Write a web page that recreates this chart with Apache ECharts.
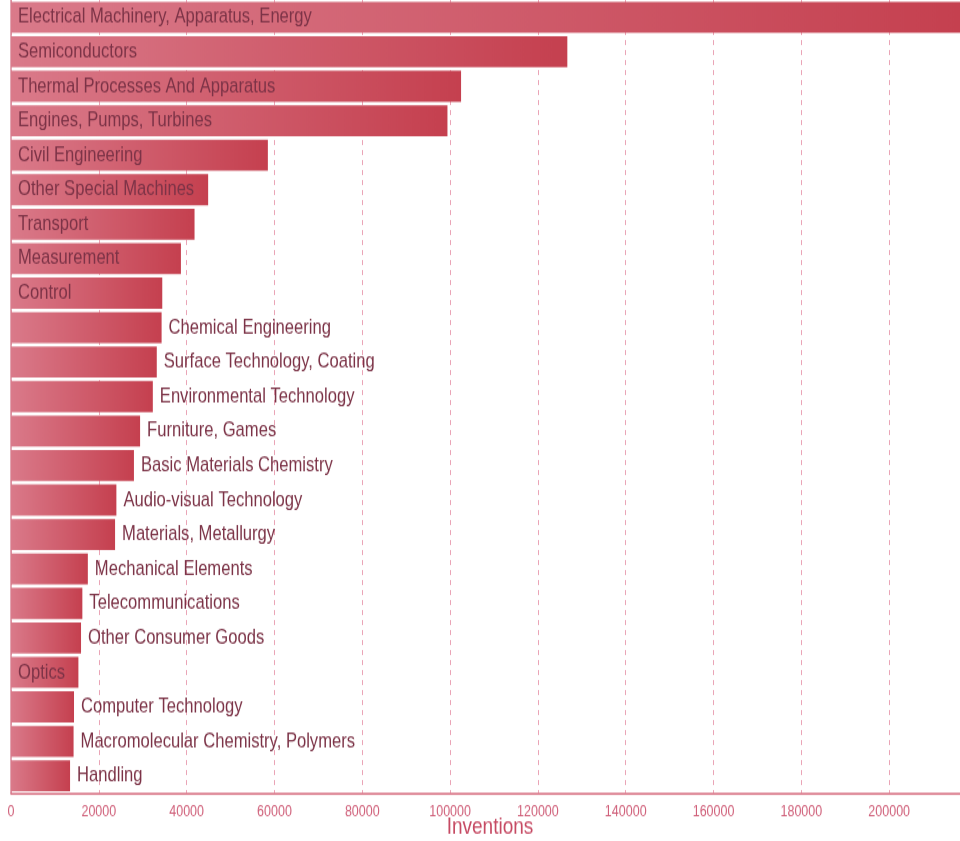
<!DOCTYPE html>
<html>
<head>
<meta charset="utf-8">
<script src="https://cdn.jsdelivr.net/npm/echarts@6/dist/echarts.min.js"></script>
<style>
  html, body { margin: 0; padding: 0; background: #ffffff; }
  #frame { width: 960px; height: 841px; position: relative; }
  /* The chart is laid out on a shorter canvas and stretched to full height,
     giving the tall, condensed lettering of the printed figure. */
  #chart {
    position: absolute;
    left: 0;
    top: 0;
    width: 960px;
    height: 673px;
    transform: scaleY(1.25);
    transform-origin: 0 0;
  }
</style>
</head>
<body>
<div id="frame"><div id="chart"></div></div>
<script>
// Technology fields, ordered from largest to smallest
const categories = [
  'Electrical Machinery, Apparatus, Energy',
  'Semiconductors',
  'Thermal Processes And Apparatus',
  'Engines, Pumps, Turbines',
  'Civil Engineering',
  'Other Special Machines',
  'Transport',
  'Measurement',
  'Control',
  'Chemical Engineering',
  'Surface Technology, Coating',
  'Environmental Technology',
  'Furniture, Games',
  'Basic Materials Chemistry',
  'Audio-visual Technology',
  'Materials, Metallurgy',
  'Mechanical Elements',
  'Telecommunications',
  'Other Consumer Goods',
  'Optics',
  'Computer Technology',
  'Macromolecular Chemistry, Polymers',
  'Handling'
];

// Number of inventions per field
const inventions = [
  217000, 126700, 102500, 99400, 58500, 44900, 41800, 38700, 34450,
  34300, 33200, 32300, 29400, 28000, 24000, 23700, 17500, 16250,
  15950, 15350, 14350, 14250, 13450
];

// Fields whose name is written inside the bar
const labelledInside = [
  'Electrical Machinery, Apparatus, Energy',
  'Semiconductors',
  'Thermal Processes And Apparatus',
  'Engines, Pumps, Turbines',
  'Civil Engineering',
  'Other Special Machines',
  'Transport',
  'Measurement',
  'Control',
  'Optics'
];

const FONT = '"Liberation Sans", Arial, sans-serif';
const TEXT_COLOR = '#7c3347';

const barGradient = new echarts.graphic.LinearGradient(0, 0, 1, 0, [
  { offset: 0, color: '#da7a8a' },
  { offset: 1, color: '#c5404f' }
]);

const seriesData = categories.map((name, i) => {
  const inside = labelledInside.includes(name);
  return {
    value: inventions[i],
    label: {
      show: true,
      position: inside ? 'insideLeft' : 'right',
      distance: 7,
      formatter: name,
      color: TEXT_COLOR,
      fontFamily: FONT,
      fontSize: 16.6
    }
  };
});

const chart = echarts.init(document.getElementById('chart'), null, { renderer: 'canvas' });

chart.setOption({
  animation: false,
  backgroundColor: '#ffffff',
  grid: {
    left: 11, right: -17, top: 0, bottom: 38.5,
    containLabel: false,
    outerBoundsMode: 'none'
  },
  xAxis: {
    type: 'value',
    min: 0,
    max: 220000,
    interval: 20000,
    name: 'Inventions',
    nameLocation: 'middle',
    nameGap: 17.5,
    nameMoveOverlap: false,
    nameTextStyle: {
      color: '#c64a63', fontFamily: FONT, fontSize: 19,
      padding: [0, 8, 0, 0]
    },
    axisLine: { show: true, lineStyle: { color: '#d66b7e', width: 1.5 } },
    axisTick: { show: false },
    axisLabel: {
      color: '#d0607a', fontFamily: FONT, fontSize: 12.5, margin: 9,
      showMaxLabel: false,
      formatter: v => String(v)
    },
    splitLine: { show: true, lineStyle: { color: '#eaa4b6', type: [4, 4], width: 1 } }
  },
  yAxis: {
    type: 'category',
    data: categories,
    inverse: true,
    axisLine: { show: true, onZero: false, lineStyle: { color: '#d98a9a', width: 1.5 } },
    axisTick: { show: false },
    axisLabel: { show: false },
    splitLine: { show: false }
  },
  series: [{
    type: 'bar',
    data: seriesData,
    barCategoryGap: '10%',
    itemStyle: { color: barGradient },
    labelLayout: { hideOverlap: false }
  }]
});
</script>
</body>
</html>
